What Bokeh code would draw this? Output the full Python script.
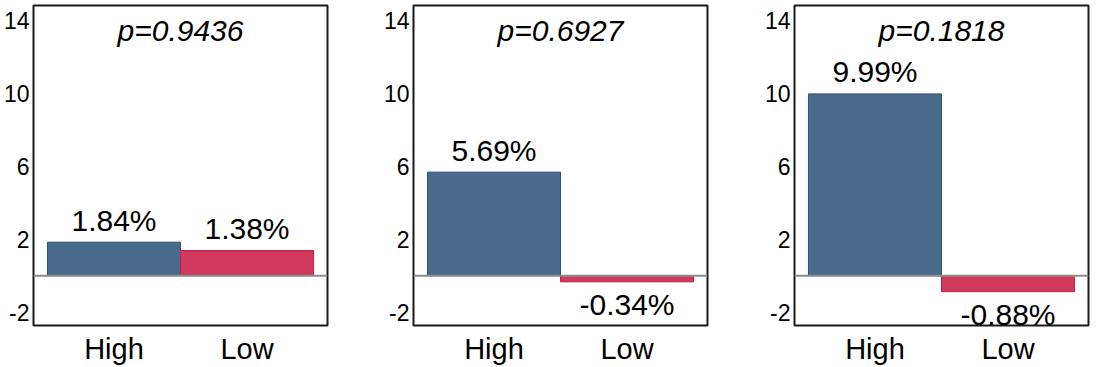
from bokeh.plotting import figure
from bokeh.layouts import row
from bokeh.models import (ColumnDataSource, FactorRange, Range1d, FixedTicker, Span, Label,
                          PrintfTickFormatter)
from bokeh.embed import file_html
from bokeh.resources import INLINE
from bokeh.core.properties import value

# ---- data ----
categories = ["High", "Low"]
panel1_values = [1.84, 1.38]
panel2_values = [5.69, -0.34]
panel3_values = [9.99, -0.88]
p_values = ["0.9436", "0.6927", "0.1818"]
y_ticks = [-2, 2, 6, 10, 14]

# ---- style ----
Y_MIN, Y_MAX = -2.74, 14.85
BAR_FILL = ["#4a6a8c", "#d0395b"]
BAR_LINE = ["#2e4f6e", "#c21f47"]
FONT = "Liberation Sans"
HEIGHT = 367


def make_panel(vals, pval, width, border_right):
    src = ColumnDataSource(dict(
        cat=categories,
        val=vals,
        fill=BAR_FILL,
        line=BAR_LINE,
        label=[f"{v:.2f}%" for v in vals],
        off=[-22 if v >= 0 else 23 for v in vals],
    ))
    p = figure(
        x_range=FactorRange(*categories, range_padding=0.105, range_padding_units="absolute"),
        y_range=Range1d(Y_MIN, Y_MAX),
        width=width, height=HEIGHT,
        output_backend="svg", toolbar_location=None,
        min_border_left=32, min_border_right=border_right,
        min_border_top=5, min_border_bottom=41,
        background_fill_color="white", border_fill_color="white",
    )
    p.vbar(x="cat", top="val", bottom=0, width=1.0, source=src,
           fill_color="fill", line_color="line", line_width=1)
    p.add_layout(Span(location=0, dimension="width", line_color="#8c8c8c", line_width=2))
    p.text(x="cat", y="val", text="label", y_offset="off", source=src,
           text_align="center", text_baseline="alphabetic",
           text_font=value(FONT), text_font_size="30px", text_color="black")
    p.add_layout(Label(x=1.0, y=13.45, text=f"p={pval}", text_align="center",
                       text_baseline="alphabetic", text_font=FONT,
                       text_font_size="30px", text_font_style="italic",
                       text_color="black"))

    p.xgrid.grid_line_color = None
    p.ygrid.grid_line_color = None
    p.outline_line_color = "#1a1a1a"
    p.outline_line_width = 2
    p.outline_line_alpha = 1.0

    xa = p.xaxis[0]
    xa.axis_line_color = None
    xa.major_tick_line_color = None
    xa.major_tick_out = 0
    xa.major_tick_in = 0
    xa.major_label_standoff = 7
    xa.major_label_text_font = FONT
    xa.major_label_text_font_size = "29px"
    xa.major_label_text_color = "black"

    ya = p.yaxis[0]
    ya.ticker = FixedTicker(ticks=y_ticks)
    ya.formatter = PrintfTickFormatter(format="%d")
    ya.axis_line_color = None
    ya.major_tick_line_color = None
    ya.minor_tick_line_color = None
    ya.major_tick_out = 0
    ya.major_tick_in = 0
    ya.major_label_standoff = 4
    ya.major_label_text_font = FONT
    ya.major_label_text_font_size = "23px"
    ya.major_label_text_color = "black"
    return p


p1 = make_panel(panel1_values, p_values[0], 380, 53)
p2 = make_panel(panel2_values, p_values[1], 381, 54)
p3 = make_panel(panel3_values, p_values[2], 334, 7)

layout = row(p1, p2, p3, spacing=0)
open("out.html", "w").write(file_html(layout, INLINE))
